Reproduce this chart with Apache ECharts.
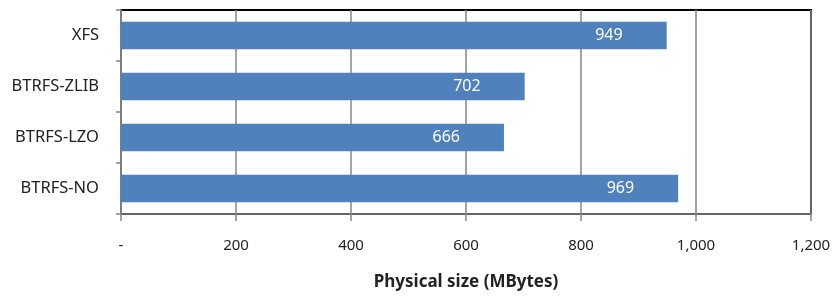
<!DOCTYPE html>
<html>
<head>
<meta charset="utf-8">
<script src="https://cdn.jsdelivr.net/npm/echarts@6/dist/echarts.min.js"></script>
<style>
  html, body { margin: 0; padding: 0; background: #fff; }
  #chart { width: 835px; height: 296px; }
</style>
</head>
<body>
<div id="chart"></div>
<script>
const categories = ['XFS', 'BTRFS-ZLIB', 'BTRFS-LZO', 'BTRFS-NO']
const sizes = [949, 702, 666, 969]
const axisTitle = 'Physical size (MBytes)'

const chart = echarts.init(document.getElementById('chart'))

const option = {
  animation: false,
  grid: {
    left: 121,
    right: 24,
    top: 10,
    bottom: 74,
    show: true,
    borderColor: '#000',
    borderWidth: 2
  },
  xAxis: {
    type: 'value',
    min: 0,
    max: 1200,
    interval: 200,
    name: axisTitle,
    nameLocation: 'middle',
    nameGap: 60,
    nameTextStyle: {
      fontFamily: 'Noto Sans',
      fontSize: 17,
      fontWeight: 'bold',
      color: '#222'
    },
    axisLine: { show: true, lineStyle: { color: '#868686', width: 1.5 } },
    axisTick: { show: true, length: 7, lineStyle: { color: '#868686', width: 1.5 } },
    axisLabel: {
      margin: 24,
      fontFamily: 'Noto Sans',
      fontSize: 15,
      color: '#222',
      formatter: v => (v === 0 ? '-' : v.toLocaleString('en-US'))
    },
    splitLine: { show: true, lineStyle: { color: '#868686', width: 1.5 } }
  },
  yAxis: {
    type: 'category',
    data: categories,
    inverse: true,
    axisLine: { show: true, lineStyle: { color: '#868686', width: 1.5 } },
    axisTick: { show: true, length: 5, lineStyle: { color: '#868686', width: 1.5 } },
    axisLabel: {
      margin: 22,
      fontFamily: 'Noto Sans',
      fontSize: 16.5,
      color: '#222'
    }
  },
  series: [
    {
      type: 'bar',
      data: sizes,
      barWidth: '54%',
      itemStyle: { color: '#4f81bd' },
      label: {
        show: true,
        position: 'insideRight',
        distance: 44,
        color: '#fff',
        fontFamily: 'Noto Sans',
        fontSize: 16
      }
    }
  ]
}

chart.setOption(option)
</script>
</body>
</html>
